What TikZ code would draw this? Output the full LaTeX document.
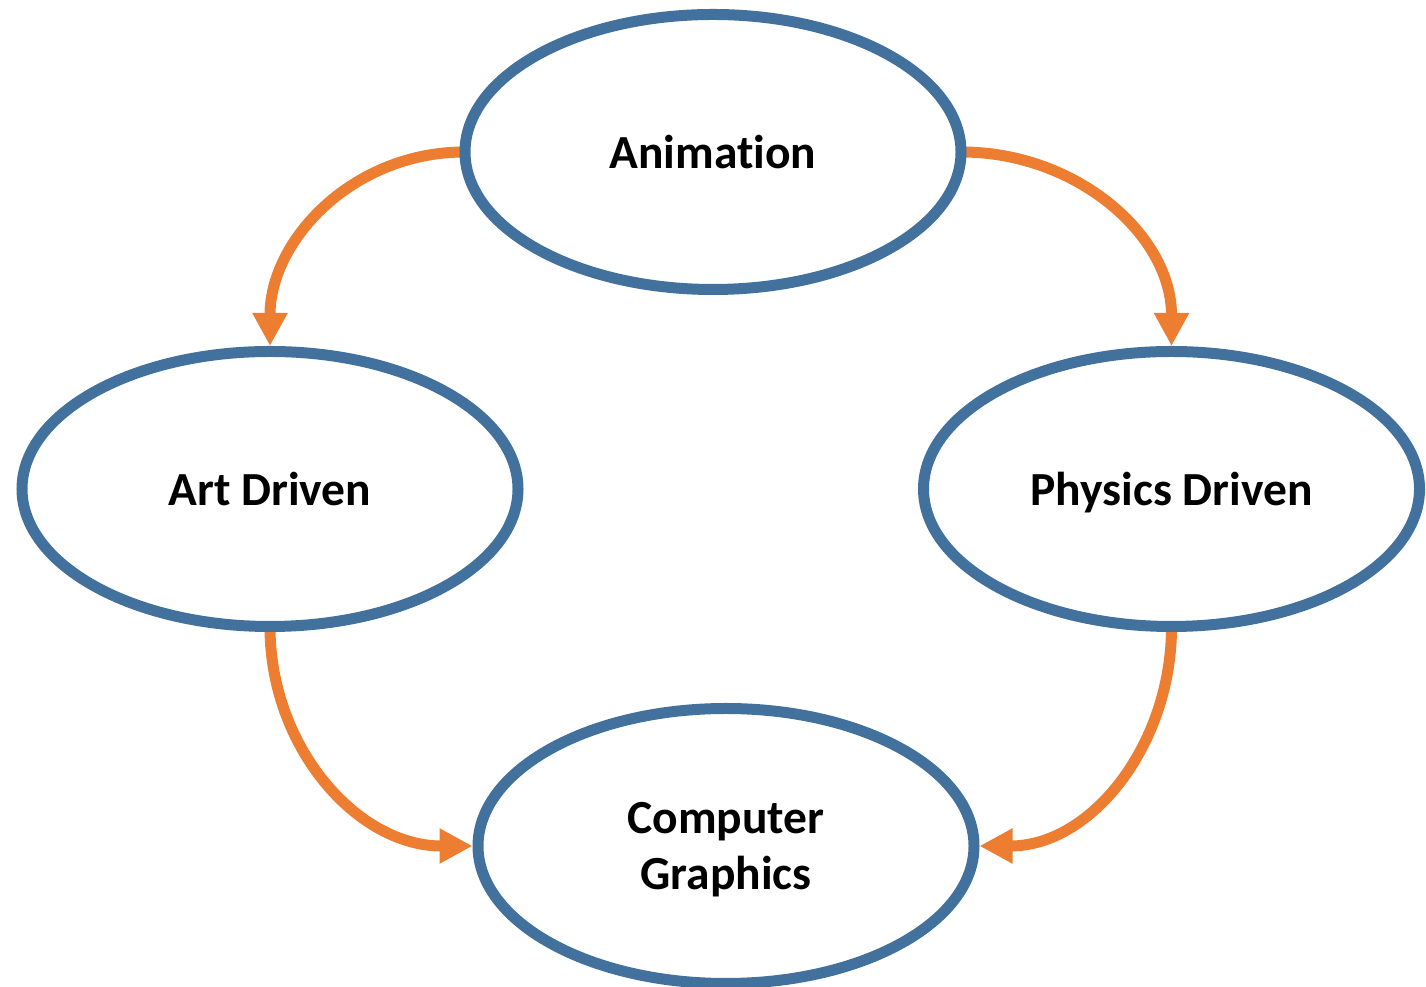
\documentclass[tikz,border=0pt]{standalone}
\usepackage{fontspec}
\setmainfont{Carlito}[Ligatures={NoCommon}]
\usetikzlibrary{shapes.geometric,arrows.meta,backgrounds}
\definecolor{ringblue}{HTML}{41719C}
\definecolor{linkorange}{HTML}{ED7D31}
\begin{document}
\begin{tikzpicture}[x=1pt,y=1pt,
  topic/.style={ellipse, draw=ringblue, line width=11pt,
    minimum width=496pt, minimum height=275pt, inner sep=0pt,
    text depth=0pt,
    font=\fontsize{47.5}{56}\selectfont\bfseries, align=center},
  link/.style={draw=linkorange, line width=11pt, shorten <=-5pt,
    -{Triangle[width=33pt,length=33pt]}}]
\useasboundingbox (0,0) rectangle (1426,987);
% the four topics
\node[topic] (anim) at (713,835) {Animation};
\node[topic] (art)  at (270,498) {Art Driven};
\node[topic] (phys) at (1171.5,498) {Physics Driven};
\node[topic] (cg)   at (726,141) {Computer\\Graphics};
% curved links between them, tucked under the rings
\begin{scope}[on background layer]
\draw[link] (anim.west) to[out=180,in=90] (art.north);
\draw[link] (anim.east) to[out=0,in=90] (phys.north);
\draw[link] (art.south) to[out=-90,in=180] (cg.west);
\draw[link] (phys.south) to[out=-90,in=0] (cg.east);
\end{scope}
\end{tikzpicture}
\end{document}
